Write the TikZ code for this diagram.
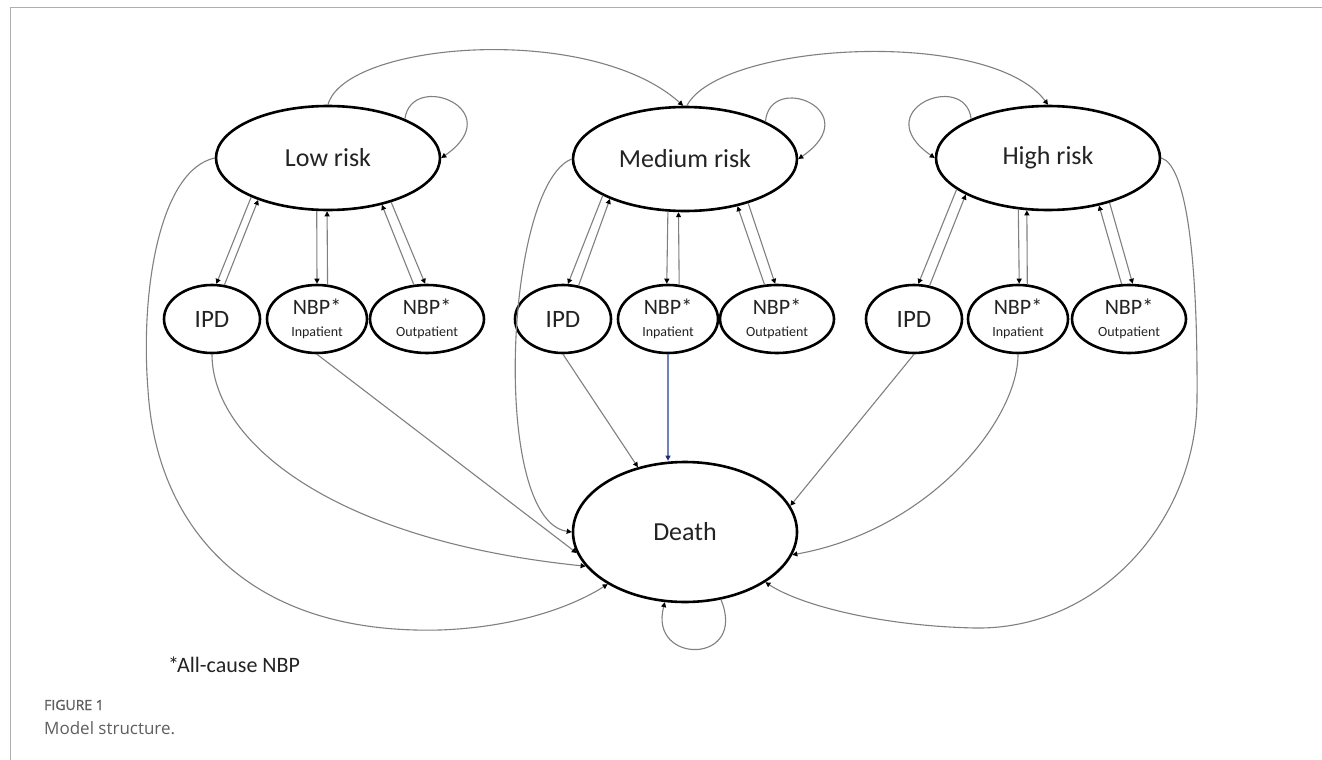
\documentclass[tikz,border=0pt]{standalone}
\usepackage{fontspec}
\setmainfont{Carlito}
\newfontfamily\capfont{Open Sans}
\newfontfamily\capfontb{Open Sans}[FakeBold=1.2]
\usetikzlibrary{arrows.meta,shapes.geometric}
\definecolor{ln}{RGB}{128,128,128}
\definecolor{bl}{RGB}{110,130,185}
\definecolor{capgray}{RGB}{95,95,95}
\definecolor{txt}{RGB}{35,35,35}
\definecolor{framecol}{RGB}{175,175,175}
\begin{document}
\begin{tikzpicture}[x=1pt,y=-1pt,
  state/.style={draw=black,line width=2.6pt,ellipse,inner sep=0pt,fill=white,text=txt},
  big/.style={state,minimum width=224pt,minimum height=104pt,font=\fontsize{26}{28}\selectfont},
  ipdbox/.style={state,minimum width=96pt,minimum height=68pt,font=\fontsize{25}{27}\selectfont},
  nbpbox/.style={state,minimum width=100pt,minimum height=68pt,align=center,font=\fontsize{22}{22}\selectfont},
  nbpobox/.style={nbpbox,minimum width=114pt},
  conn/.style={draw=ln,line width=1.1pt,-{Triangle[length=5pt,width=5pt,color=black]}},
  blueconn/.style={conn,draw=bl,-{Triangle[length=5pt,width=5pt,color={rgb,255:red,30;green,45;blue,110}]}}
]
\useasboundingbox (0,0) rectangle (1322,760);
\fill[white] (0,0) rectangle (1322,760);
\draw[framecol,line width=1pt] (10,760) -- (10,8) -- (1322,8);

% main states
\node[big] (low) at (328,158) {Low risk};
\node[big] (medium) at (685,159) {Medium risk};
\node[big] (high) at (1048,158) {High risk};
\node[state,minimum width=224pt,minimum height=140pt,font=\fontsize{26}{28}\selectfont] (death) at (685,532) {Death};

% sub states
\node[ipdbox] (ipd1) at (212,319) {IPD};
\node[nbpbox] (nbpi1) at (317,319) {\raisebox{-2pt}{NBP*}\\[2pt]{\fontsize{14}{14}\selectfont Inpatient}};
\node[nbpobox] (nbpo1) at (427,319) {\raisebox{-2pt}{NBP*}\\[2pt]{\fontsize{14}{14}\selectfont Outpatient}};
\node[ipdbox] (ipd2) at (563,319) {IPD};
\node[nbpbox] (nbpi2) at (668,319) {\raisebox{-2pt}{NBP*}\\[2pt]{\fontsize{14}{14}\selectfont Inpatient}};
\node[nbpobox] (nbpo2) at (777,319) {\raisebox{-2pt}{NBP*}\\[2pt]{\fontsize{14}{14}\selectfont Outpatient}};
\node[ipdbox] (ipd3) at (914,319) {IPD};
\node[nbpbox] (nbpi3) at (1018,319) {\raisebox{-2pt}{NBP*}\\[2pt]{\fontsize{14}{14}\selectfont Inpatient}};
\node[nbpobox] (nbpo3) at (1129,319) {\raisebox{-2pt}{NBP*}\\[2pt]{\fontsize{14}{14}\selectfont Outpatient}};

% transitions between risk groups
\draw[conn] (low.north) .. controls (345,42) and (590,22) .. (medium.92);
\draw[conn] (medium.88) .. controls (720,42) and (990,27) .. (high.north);

% self loops
\draw[conn] (low.27) .. controls (412,70) and (510,110) .. (low.east);
\draw[conn] (medium.25) .. controls (770,71) and (868,111) .. (medium.east);
\draw[conn] (high.153) .. controls (965,70) and (866,110) .. (high.west);
\draw[conn] (death.298) .. controls (748,665) and (648,665) .. (death.254);

% low risk <-> events
\draw[conn] (low.207) -- (ipd1.83);
\draw[conn] (ipd1.70) -- (low.211);
\draw[conn] (low.258) -- (nbpi1.90);
\draw[conn] (nbpi1.73) -- (low.269);
\draw[conn] (low.325) -- (nbpo1.93);
\draw[conn] (nbpo1.111) -- (low.319);

% medium risk <-> events
\draw[conn] (medium.204) -- (ipd2.82);
\draw[conn] (ipd2.65) -- (medium.208);
\draw[conn] (medium.252) -- (nbpi2.92);
\draw[conn] (nbpi2.72) -- (medium.263);
\draw[conn] (medium.325) -- (nbpo2.93);
\draw[conn] (nbpo2.110) -- (medium.318);

% high risk <-> events
\draw[conn] (high.199) -- (ipd3.83);
\draw[conn] (ipd3.65) -- (high.204);
\draw[conn] (high.240) -- (nbpi3.88);
\draw[conn] (nbpi3.75) -- (high.248);
\draw[conn] (high.324) -- (nbpo3.84);
\draw[conn] (nbpo3.102) -- (high.317);

% to death
\draw[conn] (low.west) .. controls (160,170) and (140,290) .. (148,390)
  .. controls (156,520) and (240,635) .. (440,630)
  .. controls (520,627) and (575,605) .. (death.214);
\draw[conn] (medium.west) .. controls (505,185) and (490,520) .. (death.west);
\draw[conn] (high.east) .. controls (1185,165) and (1198,250) .. (1197,400)
  .. controls (1196,520) and (1100,630) .. (975,628)
  .. controls (880,626) and (800,605) .. (death.-32);
\draw[conn] (ipd1.south) .. controls (212,440) and (330,540) .. (death.199);
\draw[conn] (nbpi1.south) -- (death.191);
\draw[conn] (ipd2.south) -- (death.126);
\draw[blueconn] (nbpi2.south) -- (nbpi2.south |- death.north);
\draw[conn] (ipd3.south) -- (death.14);
\draw[conn] (nbpi3.south) .. controls (1018,420) and (930,530) .. (death.-12);

% texts
\node[anchor=base west,inner sep=0pt,text=txt,font=\fontsize{22}{24}\selectfont] (foot) at (168,672) {*\kern-2pt All-cause NBP};
\node[anchor=base west,inner sep=0pt,font=\capfontb\fontsize{14}{16}\selectfont,text=capgray] (fig) at (44,710) {FIGURE 1};
\node[anchor=base west,inner sep=0pt,font=\capfont\fontsize{17}{20}\selectfont,text=capgray] (cap) at (44,734) {Model structure.};
\end{tikzpicture}
\end{document}
